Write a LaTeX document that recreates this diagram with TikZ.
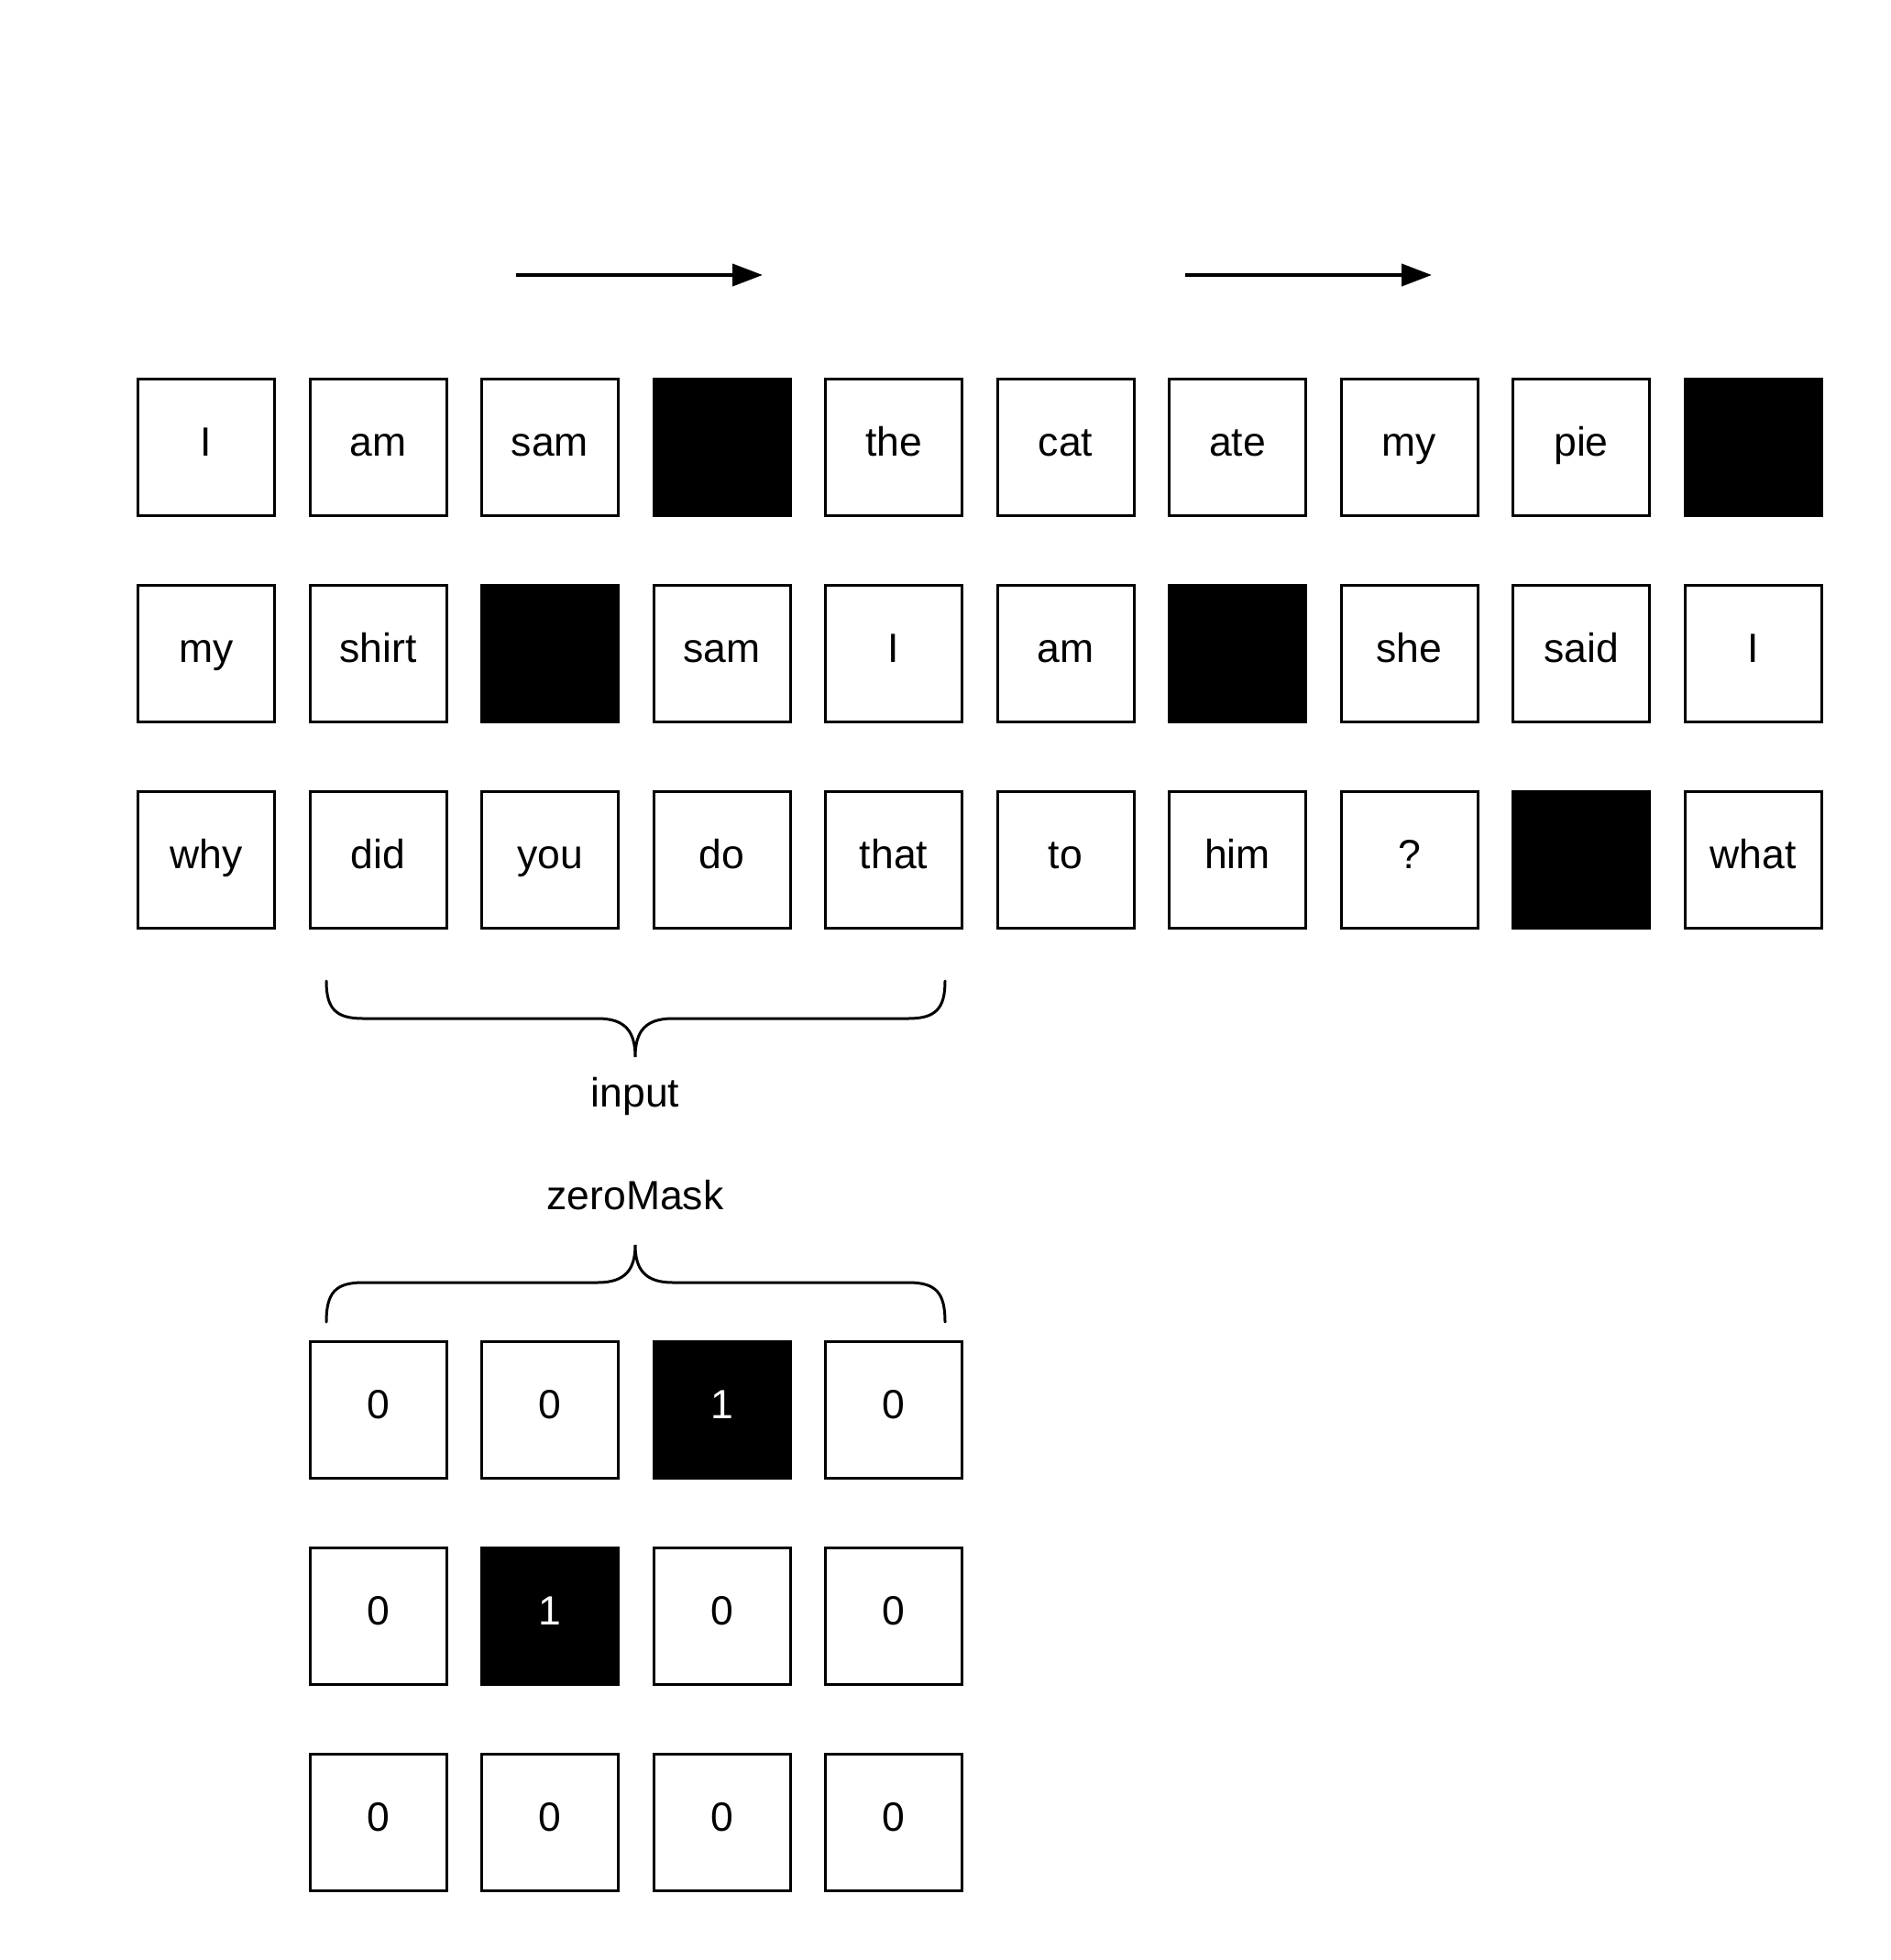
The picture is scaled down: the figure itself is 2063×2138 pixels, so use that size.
\documentclass[tikz,border=0pt]{standalone}
\usepackage{fontspec}
\setmainfont{Liberation Sans}
\usetikzlibrary{arrows.meta}
\tikzset{
  cell/.style={draw=black, line width=3pt, minimum width=149pt, minimum height=149pt,
    inner sep=0pt, text height=32pt, text depth=12pt,
    font=\fontsize{44.5}{53}\selectfont},
  blackcell/.style={cell, fill=black, text=white},
  lbl/.style={inner sep=0pt, text height=32pt, text depth=12pt,
    font=\fontsize{44.5}{53}\selectfont},
  flow/.style={line width=4pt, -{Triangle[length=33pt,width=24pt]}},
  brace/.style={line width=3pt, line cap=round}
}
\begin{document}
\begin{tikzpicture}[x=1pt,y=-1pt]
\useasboundingbox (0,0) rectangle (2063,2138);
% row 1
\foreach \t [count=\i from 0] in {I,am,sam,,the,cat,ate,my,pie,}{
  \ifx\t\empty
    \node[blackcell] (ra\i) at ({225+187.5*\i},487.5) {};
  \else
    \node[cell] (ra\i) at ({225+187.5*\i},487.5) {\t};
  \fi
}
% row 2
\foreach \t [count=\i from 0] in {my,shirt,,sam,I,am,,she,said,I}{
  \ifx\t\empty
    \node[blackcell] (rb\i) at ({225+187.5*\i},712.5) {};
  \else
    \node[cell] (rb\i) at ({225+187.5*\i},712.5) {\t};
  \fi
}
% row 3
\foreach \t [count=\i from 0] in {why,did,you,do,that,to,him,?,,what}{
  \ifx\t\empty
    \node[blackcell] (rc\i) at ({225+187.5*\i},937.5) {};
  \else
    \node[cell] (rc\i) at ({225+187.5*\i},937.5) {\t};
  \fi
}
% mask rows
\foreach \v [count=\i from 1] in {0,0,1,0}{
  \ifnum\v=1
    \node[blackcell] (ma\i) at ({225+187.5*\i},1537.5) {\v};
  \else
    \node[cell] (ma\i) at ({225+187.5*\i},1537.5) {\v};
  \fi
}
\foreach \v [count=\i from 1] in {0,1,0,0}{
  \ifnum\v=1
    \node[blackcell] (mb\i) at ({225+187.5*\i},1762.5) {\v};
  \else
    \node[cell] (mb\i) at ({225+187.5*\i},1762.5) {\v};
  \fi
}
\foreach \v [count=\i from 1] in {0,0,0,0}{
  \node[cell] (mc\i) at ({225+187.5*\i},1987.5) {\v};
}
% arrows
\coordinate (a1s) at (563,300);
\coordinate (a1e) at (832,300);
\coordinate (a2s) at (1293,300);
\coordinate (a2e) at (1562,300);
\draw[flow] (a1s) -- (a1e);
\draw[flow] (a2s) -- (a2e);
% input brace
\draw[brace] (356,1070) .. controls (356,1100) and (366,1111) .. (396,1111)
  -- (652,1111) .. controls (682,1111) and (693,1125) .. (693,1153)
  .. controls (693,1125) and (704,1111) .. (734,1111)
  -- (991,1111) .. controls (1021,1111) and (1031,1100) .. (1031,1070);
\node[lbl] (input) at (693,1197) {input};
% zeroMask brace
\node[lbl] (zeromask) at (693,1309) {zeroMask};
\draw[brace] (356,1442) .. controls (356,1410) and (366,1399) .. (396,1399)
  -- (652,1399) .. controls (682,1399) and (693,1385) .. (693,1358)
  .. controls (693,1385) and (704,1399) .. (734,1399)
  -- (991,1399) .. controls (1021,1399) and (1031,1410) .. (1031,1442);
\end{tikzpicture}
\end{document}
